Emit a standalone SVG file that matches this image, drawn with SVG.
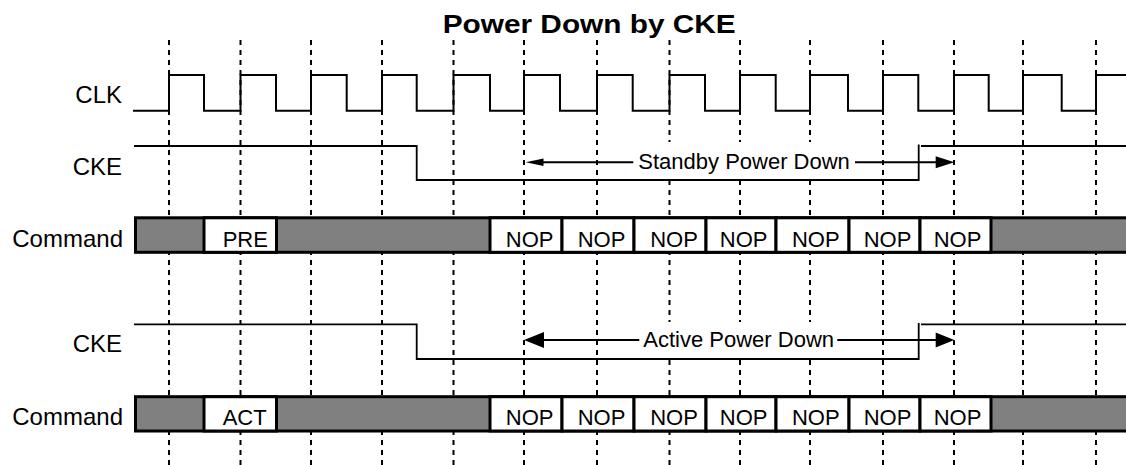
<svg xmlns="http://www.w3.org/2000/svg" width="1126" height="465" viewBox="0 0 1126 465">
<style>
text{font-family:"Liberation Sans",Arial,sans-serif;fill:#000}
.lbl{font-size:24px;text-anchor:end}
.cell{font-size:22px}
.ctr{font-size:22px;text-anchor:middle}
.grid{stroke:#000;stroke-width:2;stroke-dasharray:5 5;fill:none}
.wave{stroke:#000;stroke-width:2;fill:none}
.cke{stroke:#000;stroke-width:1.8;fill:none}
.bar{fill:#808080;stroke:#000;stroke-width:3}
.wc{fill:#fff;stroke:#000;stroke-width:3}
.arr{stroke:#000;stroke-width:2;fill:none}
.ah{fill:#000}
</style>
<rect width="1126" height="465" fill="#fff"/>
<text id="title" x="442.7" y="33" font-size="25" font-weight="bold" textLength="293" lengthAdjust="spacingAndGlyphs">Power Down by CKE</text>
<g id="gridlines">
<path class="grid" d="M169 40V465M240.5 40V465M311 40V465M382 40V465M453.5 40V465M524 40V465M597 40V465M669.5 40V465M740 40V465M810 40V465M883 40V465M954 40V465M1023 40V465M1096 40V465"/>
</g>
<g id="label-masks">
<rect x="636" y="142" width="217" height="37" fill="#fff"/>
<rect x="641" y="322" width="196" height="36" fill="#fff"/>
</g>
<g id="clk">
<text class="lbl" x="122" y="102.5">CLK</text>
<path class="wave" d="M133 110.7H169V75H204V110.7H240.5V75H276V110.7H311V75H346.7V110.7H382V75H416.7V110.7H453.5V75H490V110.7H524V75H560V110.7H597V75H632.7V110.7H669.5V75H705V110.7H740V75H775.7V110.7H810V75H848V110.7H883V75H918.3V110.7H954V75H988.7V110.7H1023V75H1061.7V110.7H1096V75H1126"/>
</g>
<g id="cke1">
<text class="lbl" x="122" y="175">CKE</text>
<path class="cke" d="M134 146H416.7V180H918.7V144.5M921 146H1126"/>
</g>
<g id="cmd1">
<text class="lbl" x="123" y="247.3">Command</text>
<rect class="bar" x="135.5" y="217.8" width="1000" height="34.5"/>
<rect class="wc" x="204" y="217.8" width="72.5" height="34.5"/>
<rect class="wc" x="490" y="217.8" width="72" height="34.5"/>
<rect class="wc" x="562" y="217.8" width="72" height="34.5"/>
<rect class="wc" x="634" y="217.8" width="72" height="34.5"/>
<rect class="wc" x="706" y="217.8" width="70" height="34.5"/>
<rect class="wc" x="776" y="217.8" width="73" height="34.5"/>
<rect class="wc" x="849" y="217.8" width="71" height="34.5"/>
<rect class="wc" x="920" y="217.8" width="71" height="34.5"/>
<text class="cell" x="222.7" y="247.3">PRE</text>
<text class="ctr" x="529.7" y="247.3">NOP</text>
<text class="ctr" x="601.5" y="247.3">NOP</text>
<text class="ctr" x="674" y="247.3">NOP</text>
<text class="ctr" x="743.7" y="247.3">NOP</text>
<text class="ctr" x="815.8" y="247.3">NOP</text>
<text class="ctr" x="887.5" y="247.3">NOP</text>
<text class="ctr" x="957.5" y="247.3">NOP</text>
</g>
<g id="cke2">
<text class="lbl" x="122" y="351.7">CKE</text>
<path class="cke" d="M134 324.3H416.7V359H918.7V323M921 324.3H1126"/>
</g>
<g id="cmd2">
<text class="lbl" x="123" y="425">Command</text>
<rect class="bar" x="135.5" y="396.7" width="1000" height="34.3"/>
<rect class="wc" x="204" y="396.7" width="72.5" height="34.3"/>
<rect class="wc" x="490" y="396.7" width="72" height="34.3"/>
<rect class="wc" x="562" y="396.7" width="72" height="34.3"/>
<rect class="wc" x="634" y="396.7" width="72" height="34.3"/>
<rect class="wc" x="706" y="396.7" width="70" height="34.3"/>
<rect class="wc" x="776" y="396.7" width="73" height="34.3"/>
<rect class="wc" x="849" y="396.7" width="71" height="34.3"/>
<rect class="wc" x="920" y="396.7" width="71" height="34.3"/>
<text class="cell" x="222.7" y="425">ACT</text>
<text class="ctr" x="529.7" y="425">NOP</text>
<text class="ctr" x="601.5" y="425">NOP</text>
<text class="ctr" x="674" y="425">NOP</text>
<text class="ctr" x="743.7" y="425">NOP</text>
<text class="ctr" x="815.8" y="425">NOP</text>
<text class="ctr" x="887.5" y="425">NOP</text>
<text class="ctr" x="957.5" y="425">NOP</text>
</g>
<g id="connectors">
<path class="arr" d="M540 162.3H633.3M855 162.3H937"/>
<polygon class="ah" points="525.7,162.3 543.5,158.6 543.5,166"/>
<polygon class="ah" points="954.3,162.3 935.7,156.3 935.7,168.3"/>
<path class="arr" d="M540 340H639.3M837.3 340H937"/>
<polygon class="ah" points="524,340 544,332 544,348"/>
<polygon class="ah" points="954.3,340 935.7,332.5 935.7,347.5"/>
</g>
<g id="arrow-labels">
<text class="cell" x="638.3" y="169.3">Standby Power Down</text>
<text class="cell" x="643.3" y="346.7">Active Power Down</text>
</g>
</svg>
